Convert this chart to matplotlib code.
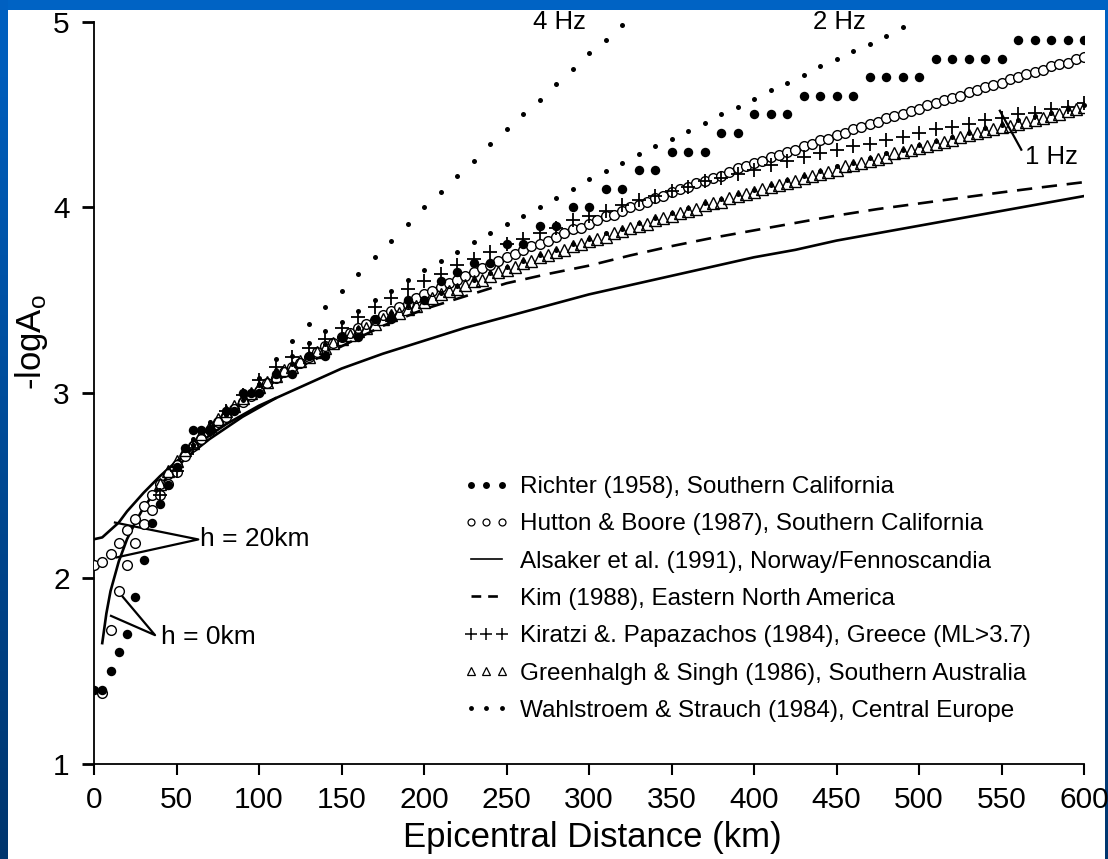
import numpy as np
import matplotlib
matplotlib.use("Agg")
import matplotlib.pyplot as plt
from matplotlib.lines import Line2D

plt.rcParams['font.family'] = ['Liberation Sans', 'DejaVu Sans']
plt.rcParams['mathtext.fontset'] = 'custom'
plt.rcParams['mathtext.rm'] = 'Liberation Sans'
plt.rcParams['mathtext.it'] = 'Liberation Sans'
plt.rcParams['lines.scale_dashes'] = False

# ---------------- data: -logA0 versus epicentral distance (km) ----------------
richter_km = [0, 5, 10, 15, 20, 25, 30, 35, 40, 45, 50, 55, 60, 65, 70, 80, 85, 90, 95, 100] + list(range(110, 601, 10))
richter_val = [1.4, 1.4, 1.5, 1.6, 1.7, 1.9, 2.1, 2.3, 2.4, 2.5, 2.6, 2.7, 2.8, 2.8, 2.8, 2.9, 2.9, 3.0, 3.0, 3.0,
               3.1, 3.1, 3.2, 3.2, 3.3, 3.3, 3.4, 3.4, 3.5, 3.5,
               3.6, 3.65, 3.7, 3.7, 3.8, 3.8, 3.9, 3.9, 4.0, 4.0,
               4.1, 4.1, 4.2, 4.2, 4.3, 4.3, 4.3, 4.4, 4.4, 4.5,
               4.5, 4.5, 4.6, 4.6, 4.6, 4.6, 4.7, 4.7, 4.7, 4.7,
               4.8, 4.8, 4.8, 4.8, 4.8, 4.9, 4.9, 4.9, 4.9, 4.9]

# Hutton & Boore, focal depth 0 km (near-source branch)
hb0_km = [5, 10, 15, 20, 25, 30, 35, 40, 45, 50]
hb0_val = [1.38, 1.72, 1.93, 2.07, 2.19, 2.29, 2.37, 2.45, 2.51, 2.57]
# Hutton & Boore, focal depth 20 km
hb20_km = list(range(0, 601, 5))
hb20_val = [2.07, 2.09, 2.13, 2.19, 2.26, 2.32, 2.39, 2.45, 2.51, 2.56,
            2.61, 2.66, 2.71, 2.75, 2.80, 2.84, 2.87, 2.91, 2.95, 2.98,
            3.01, 3.05, 3.08, 3.11, 3.14, 3.16, 3.19, 3.22, 3.25, 3.27,
            3.30, 3.32, 3.35, 3.37, 3.39, 3.42, 3.44, 3.46, 3.48, 3.51,
            3.53, 3.55, 3.57, 3.59, 3.61, 3.63, 3.65, 3.67, 3.69, 3.71,
            3.73, 3.75, 3.77, 3.79, 3.80, 3.82, 3.84, 3.86, 3.88, 3.89,
            3.91, 3.93, 3.95, 3.96, 3.98, 4.00, 4.01, 4.03, 4.05, 4.06,
            4.08, 4.10, 4.11, 4.13, 4.14, 4.16, 4.17, 4.19, 4.21, 4.22,
            4.24, 4.25, 4.27, 4.28, 4.30, 4.31, 4.33, 4.34, 4.36, 4.37,
            4.39, 4.40, 4.42, 4.43, 4.45, 4.46, 4.48, 4.49, 4.50, 4.52,
            4.53, 4.55, 4.56, 4.58, 4.59, 4.60, 4.62, 4.63, 4.65, 4.66,
            4.67, 4.69, 4.70, 4.72, 4.73, 4.74, 4.76, 4.77, 4.78, 4.80,
            4.81]

# Alsaker et al., h = 0 km and h = 20 km
als0_km = [5, 7.5, 10, 15, 20, 25, 30, 40, 50, 60, 70, 80, 90, 100, 110]
als0_val = [1.65, 1.81, 1.93, 2.09, 2.21, 2.30, 2.38, 2.50, 2.60, 2.68, 2.75, 2.81, 2.87, 2.92, 2.97]
als20_km = [0, 5, 10, 15, 20, 25, 30, 40, 50, 60, 70, 80, 90, 100, 110] + list(range(125, 601, 25))
als20_val = [2.21, 2.22, 2.26, 2.30, 2.36, 2.41, 2.46, 2.55, 2.63, 2.70, 2.77, 2.83, 2.88, 2.93, 2.97,
             3.03, 3.13, 3.21, 3.28, 3.35, 3.41, 3.47, 3.53, 3.58, 3.63,
             3.68, 3.73, 3.77, 3.82, 3.86, 3.90, 3.94, 3.98, 4.02, 4.06]

# Kim, eastern North America
kim_km = list(range(50, 601, 25))
kim_val = [2.62, 2.84, 3.01, 3.14, 3.25, 3.36, 3.45, 3.52, 3.59, 3.64, 3.685, 3.74,
           3.79, 3.835, 3.875, 3.915, 3.955, 3.99, 4.02, 4.05, 4.08, 4.108, 4.135]

# Kiratzi & Papazachos, Greece
kp_km = list(range(40, 601, 10))
kp_val = [2.45, 2.58, 2.70, 2.80, 2.90, 2.99, 3.07, 3.14, 3.19, 3.24,
          3.29, 3.35, 3.41, 3.46, 3.51, 3.56, 3.60, 3.64, 3.69, 3.72,
          3.76, 3.80, 3.83, 3.86, 3.89, 3.93, 3.95, 3.98, 4.01, 4.04,
          4.06, 4.09, 4.11, 4.14, 4.16, 4.18, 4.20, 4.23, 4.25, 4.27,
          4.29, 4.31, 4.33, 4.34, 4.36, 4.38, 4.40, 4.42, 4.43, 4.45,
          4.47, 4.48, 4.50, 4.51, 4.53, 4.54, 4.56]

# Greenhalgh & Singh, southern Australia
gs_km = list(range(40, 601, 5))
gs_val = [2.51, 2.58, 2.63, 2.69, 2.73, 2.78, 2.82, 2.86, 2.90, 2.93,
          2.97, 3.00, 3.03, 3.06, 3.09, 3.12, 3.14, 3.17, 3.19, 3.22,
          3.24, 3.27, 3.29, 3.31, 3.33, 3.35, 3.37, 3.40, 3.42, 3.43,
          3.45, 3.47, 3.49, 3.51, 3.53, 3.55, 3.56, 3.58, 3.60, 3.61,
          3.63, 3.65, 3.66, 3.68, 3.70, 3.71, 3.73, 3.74, 3.76, 3.77,
          3.79, 3.80, 3.82, 3.83, 3.84, 3.86, 3.87, 3.89, 3.90, 3.91,
          3.93, 3.94, 3.95, 3.97, 3.98, 3.99, 4.01, 4.02, 4.03, 4.05,
          4.06, 4.07, 4.08, 4.10, 4.11, 4.12, 4.13, 4.14, 4.16, 4.17,
          4.18, 4.19, 4.20, 4.22, 4.23, 4.24, 4.25, 4.26, 4.27, 4.29,
          4.30, 4.31, 4.32, 4.33, 4.34, 4.35, 4.36, 4.38, 4.39, 4.40,
          4.41, 4.42, 4.43, 4.44, 4.45, 4.46, 4.47, 4.48, 4.49, 4.50,
          4.52, 4.53, 4.54]

# Wahlstroem & Strauch, central Europe (4, 2 and 1 Hz)
ws4_km = list(range(60, 321, 10))
ws4_val = [2.72, 2.81, 2.90, 2.99, 3.08, 3.18, 3.28, 3.37, 3.46, 3.55,
           3.64, 3.73, 3.82, 3.91, 4.00, 4.08, 4.17, 4.25, 4.34, 4.42,
           4.50, 4.58, 4.665, 4.745, 4.83, 4.90, 4.98]
ws2_km = list(range(60, 491, 10))
ws2_val = [2.72, 2.80, 2.88, 2.96, 3.04, 3.12, 3.20, 3.27, 3.33, 3.38,
           3.44, 3.50, 3.55, 3.61, 3.66, 3.71, 3.76, 3.81, 3.86, 3.91,
           3.955, 4.00, 4.05, 4.10, 4.15, 4.195, 4.24, 4.285, 4.33, 4.37,
           4.41, 4.455, 4.50, 4.54, 4.585, 4.63, 4.67, 4.715, 4.76, 4.80,
           4.84, 4.88, 4.925, 4.97]
ws1_km = list(range(60, 601, 10))
ws1_val = [2.75, 2.84, 2.91, 2.98, 3.045, 3.10, 3.155, 3.21, 3.26, 3.30,
           3.35, 3.39, 3.43, 3.47, 3.505, 3.54, 3.575, 3.61, 3.645, 3.675,
           3.71, 3.74, 3.77, 3.80, 3.83, 3.86, 3.885, 3.915, 3.94, 3.97,
           3.995, 4.02, 4.045, 4.07, 4.095, 4.12, 4.145, 4.17, 4.195, 4.22,
           4.24, 4.265, 4.29, 4.31, 4.335, 4.355, 4.38, 4.40, 4.425, 4.445,
           4.47, 4.49, 4.51, 4.53, 4.55]

legend_labels = [
    "Richter (1958), Southern California",
    "Hutton & Boore (1987), Southern California",
    "Alsaker et al. (1991), Norway/Fennoscandia",
    "Kim (1988), Eastern North America",
    "Kiratzi &. Papazachos (1984), Greece (ML>3.7)",
    "Greenhalgh & Singh (1986), Southern Australia",
    "Wahlstroem & Strauch (1984), Central Europe",
]
x_ticks = [0, 50, 100, 150, 200, 250, 300, 350, 400, 450, 500, 550, 600]
y_ticks = [1, 2, 3, 4, 5]

# ---------------- figure ----------------
W, H = 1108, 859
fig = plt.figure(figsize=(W / 100, H / 100), dpi=100, facecolor='white')

# blue slide frame: top band, left gradient band, thin right edge
top_band = fig.add_axes([0, 1 - 10 / H, 1, 10 / H])
top_band.imshow(np.array([[[0.0, 0.39, 0.77]]]), aspect='auto', extent=[0, 1, 0, 1])
top_band.set_axis_off()
left_band = fig.add_axes([0, 0, 8 / W, 1])
grad = np.linspace(0, 1, 256)
cols = np.zeros((256, 1, 3))
cols[:, 0, 1] = 0.38 - 0.17 * grad
cols[:, 0, 2] = 0.76 - 0.33 * grad
left_band.imshow(cols, aspect='auto', extent=[0, 1, 0, 1])
left_band.set_axis_off()
right_band = fig.add_axes([1 - 3 / W, 0, 3 / W, 1 - 10 / H])
right_band.imshow(cols, aspect='auto', extent=[0, 1, 0, 1])
right_band.set_axis_off()

ax = fig.add_axes([94 / W, (H - 763.7) / H, 990 / W, (763.7 - 21.7) / H])
ax.set_xlim(0, 600)
ax.set_ylim(1, 5)
ax.patch.set_alpha(0)

k = 'black'
# curves
ax.plot(als20_km, als20_val, color=k, lw=1.9, zorder=2)
ax.plot(als0_km, als0_val, color=k, lw=1.9, zorder=2)
kim_line, = ax.plot(kim_km, kim_val, color=k, lw=1.9, zorder=2)
kim_line.set_dashes([11, 7])

# point series
ax.plot(hb20_km, hb20_val, ls='none', marker='o', ms=7, mfc='white', mec=k, mew=1.0, zorder=3)
ax.plot(hb0_km, hb0_val, ls='none', marker='o', ms=7, mfc='white', mec=k, mew=1.0, zorder=3)
ax.plot(gs_km, gs_val, ls='none', marker='^', ms=8, mfc='none', mec=k, mew=1.0, zorder=4)
ax.plot(kp_km, kp_val, ls='none', marker='+', ms=10, mec=k, mew=1.3, zorder=5)
ax.plot(richter_km, richter_val, ls='none', marker='o', ms=6.8, mfc=k, mec=k, mew=0, zorder=6)
for xs, ys in ((ws4_km, ws4_val), (ws2_km, ws2_val), (ws1_km, ws1_val)):
    ax.plot(xs, ys, ls='none', marker='o', ms=3.6, mfc=k, mec=k, mew=0, zorder=7, clip_on=False)

# axes styling
for s in ('top', 'right'):
    ax.spines[s].set_visible(False)
ax.spines['left'].set_linewidth(1.3)
ax.spines['bottom'].set_linewidth(1.3)
ax.set_xticks(x_ticks)
ax.set_yticks(y_ticks)
ax.tick_params(axis='x', direction='out', length=8, width=1.5, pad=8, labelsize=21.5)
ax.tick_params(axis='y', direction='out', length=8.5, width=2.0, pad=9, labelsize=21.5)

fig.text(592 / W, 1 - 838 / H, 'Epicentral Distance (km)', ha='center', va='center', fontsize=25)
fig.text(31 / W, 1 - 342 / H, r'-logA$_\mathregular{o}$', ha='center', va='center', rotation=90, fontsize=25)

# frequency and depth annotations
ax.text(282, 5.0, '4 Hz', ha='center', va='center', fontsize=18.5, clip_on=False)
ax.text(452, 5.0, '2 Hz', ha='center', va='center', fontsize=18.5, clip_on=False)
ax.text(580, 4.27, '1 Hz', ha='center', va='center', fontsize=18.5)
ax.plot([562, 549], [4.31, 4.52], color=k, lw=1.6)

ax.text(64.5, 2.21, 'h = 20km', ha='left', va='center', fontsize=19)
ax.plot([12.7, 63.2, 13.7], [2.30, 2.209, 2.112], color=k, lw=1.6)
ax.text(40.6, 1.685, 'h = 0km', ha='left', va='center', fontsize=19)
ax.plot([17.4, 37.0, 10.3], [1.90, 1.693, 1.797], color=k, lw=1.6)

# legend proxies
dash_proxy = Line2D([], [], color=k, lw=1.9)
dash_proxy.set_dashes([7, 5])
handles = [
    Line2D([], [], ls='none', marker='o', ms=5, mfc=k, mec=k, mew=0),
    Line2D([], [], ls='none', marker='o', ms=5, mfc='white', mec=k, mew=0.9),
    Line2D([], [], color=k, lw=1.2),
    dash_proxy,
    Line2D([], [], ls='none', marker='+', ms=8, mec=k, mew=1.1),
    Line2D([], [], ls='none', marker='^', ms=6, mfc='none', mec=k, mew=0.9),
    Line2D([], [], ls='none', marker='o', ms=3.5, mfc=k, mec=k, mew=0),
]
fig.legend(handles, legend_labels, loc='upper left', bbox_to_anchor=(464 / W, 1 - 476 / H),
           frameon=False, numpoints=3, handlelength=1.85, handletextpad=0.45,
           labelspacing=0.63, fontsize=17.5, borderpad=0, borderaxespad=0)

fig.savefig('out.png', dpi=100, facecolor='white')
